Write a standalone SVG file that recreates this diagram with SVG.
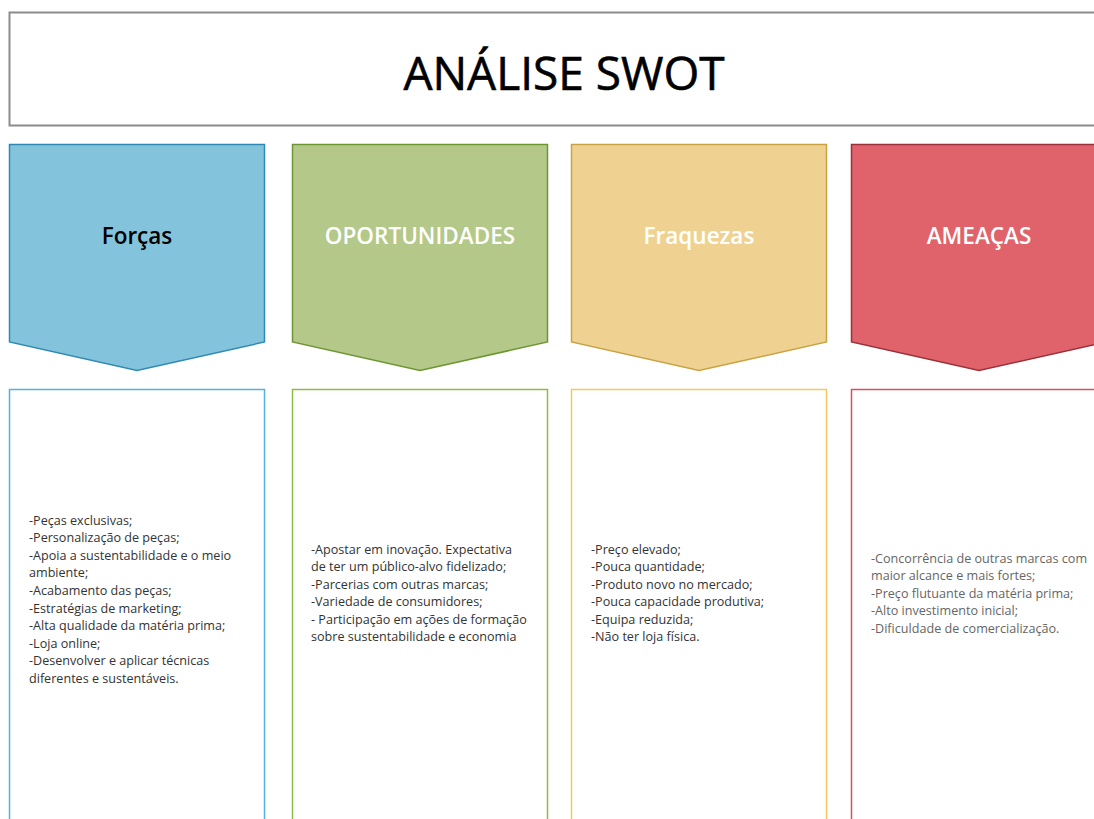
<svg xmlns="http://www.w3.org/2000/svg" width="1094" height="819" viewBox="0 0 1094 819">
<style>
.t{font-family:"Open Sans","Noto Sans","DejaVu Sans",sans-serif;}
.title{font-size:46px;fill:#000;text-anchor:middle;stroke:#000;stroke-width:0.6px;}
.hd{font-size:22.5px;text-anchor:middle;font-weight:600;}
.body{font-size:12.6px;fill:#333;}
.bg{fill:#fff;stroke-width:1.5;}
.hdr{stroke-width:1.5;}
</style>
<rect width="1094" height="819" fill="#fff"/>
<g id="title">
<rect x="9.5" y="12.5" width="1100" height="113" fill="#fff" stroke="#8c8c8c" stroke-width="2"/>
<text class="t title" x="564" y="90">ANÁLISE SWOT</text>
</g>
<g id="forcas">
<polygon class="hdr" points="9.5,144.5 264.5,144.5 264.5,342 137,370.5 9.5,342" fill="#84c3dc" stroke="#2f8ab3"/>
<text class="t hd" x="137" y="244" fill="#000">Forças</text>
</g>
<g id="oportunidades">
<polygon class="hdr" points="292.5,144.5 547.5,144.5 547.5,342 420,370.5 292.5,342" fill="#b4c889" stroke="#6d9633"/>
<text class="t hd" x="420" y="244" fill="#fff">OPORTUNIDADES</text>
</g>
<g id="fraquezas">
<polygon class="hdr" points="571.5,144.5 826.5,144.5 826.5,342 699,370.5 571.5,342" fill="#efd291" stroke="#c9a243"/>
<text class="t hd" x="699" y="244" fill="#fff">Fraquezas</text>
</g>
<g id="ameacas">
<polygon class="hdr" points="851.5,144.5 1106.5,144.5 1106.5,342 979,370.5 851.5,342" fill="#e0636c" stroke="#9b3039"/>
<text class="t hd" x="979" y="244" fill="#fff">AMEAÇAS</text>
</g>
<g id="forcas-list">
<rect class="bg" x="9.5" y="389.5" width="255" height="440" stroke="#4fb3de"/>
<text class="t body">
<tspan x="29" y="524.5">-Peças exclusivas;</tspan>
<tspan x="29" y="542.1">-Personalização de peças;</tspan>
<tspan x="29" y="559.7">-Apoia a sustentabilidade e o meio</tspan>
<tspan x="29" y="577.3">ambiente;</tspan>
<tspan x="29" y="594.9">-Acabamento das peças;</tspan>
<tspan x="29" y="612.5">-Estratégias de marketing;</tspan>
<tspan x="29" y="630.1">-Alta qualidade da matéria prima;</tspan>
<tspan x="29" y="647.7">-Loja online;</tspan>
<tspan x="29" y="665.3">-Desenvolver e aplicar técnicas</tspan>
<tspan x="29" y="682.9">diferentes e sustentáveis.</tspan>
</text>
</g>
<g id="oportunidades-list">
<rect class="bg" x="292.5" y="389.5" width="255" height="440" stroke="#8dbd42"/>
<text class="t body">
<tspan x="311" y="553.5">-Apostar em inovação. Expectativa</tspan>
<tspan x="311" y="571">de ter um público-alvo fidelizado;</tspan>
<tspan x="311" y="588.5">-Parcerias com outras marcas;</tspan>
<tspan x="311" y="606">-Variedade de consumidores;</tspan>
<tspan x="311" y="623.5">- Participação em ações de formação</tspan>
<tspan x="311" y="641">sobre sustentabilidade e economia</tspan>
</text>
</g>
<g id="fraquezas-list">
<rect class="bg" x="571.5" y="389.5" width="255" height="440" stroke="#f5c85e"/>
<text class="t body">
<tspan x="591" y="553.5">-Preço elevado;</tspan>
<tspan x="591" y="571">-Pouca quantidade;</tspan>
<tspan x="591" y="588.5">-Produto novo no mercado;</tspan>
<tspan x="591" y="606">-Pouca capacidade produtiva;</tspan>
<tspan x="591" y="623.5">-Equipa reduzida;</tspan>
<tspan x="591" y="641">-Não ter loja física.</tspan>
</text>
</g>
<g id="ameacas-list">
<rect class="bg" x="851.5" y="389.5" width="255" height="440" stroke="#d9505b"/>
<text class="t body" style="fill:#666">
<tspan x="871" y="562.5">-Concorrência de outras marcas com</tspan>
<tspan x="871" y="580">maior alcance e mais fortes;</tspan>
<tspan x="871" y="597.5">-Preço flutuante da matéria prima;</tspan>
<tspan x="871" y="615">-Alto investimento inicial;</tspan>
<tspan x="871" y="632.5">-Dificuldade de comercialização.</tspan>
</text>
</g>
<g id="connectors"></g>
</svg>
